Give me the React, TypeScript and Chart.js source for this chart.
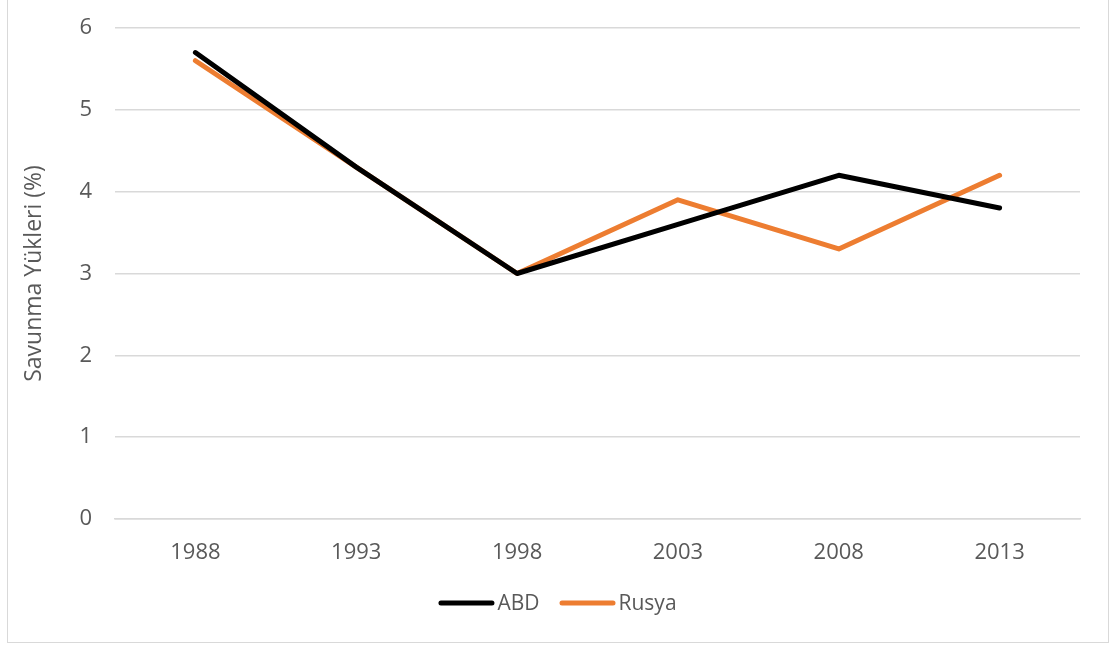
import React, { useEffect, useRef } from "react";
import { Chart, registerables } from "chart.js";

Chart.register(...registerables);

const years = ["1988", "1993", "1998", "2003", "2008", "2013"];
const abd = [5.7, 4.3, 3.0, 3.6, 4.2, 3.8];
const rusya = [5.6, 4.3, 3.0, 3.9, 3.3, 4.2];
const yTicks = [0, 1, 2, 3, 4, 5, 6];
const seriesNames = ["ABD", "Rusya"];
const seriesColors = ["#000000", "#ED7D31"];

const FONT = "'Open Sans', sans-serif";
const TEXT = "#595959";
const GRID = "#d9d9d9";

const legendPlugin = {
  id: "customLegend",
  afterDraw(chart: any) {
    const ctx = chart.ctx as CanvasRenderingContext2D;
    const y = 603;
    const lineW = 56;
    const gapText = 3;
    const gapItem = 20;
    ctx.save();
    ctx.font = `21px ${FONT}`;
    const items = chart.data.datasets.map((d: any) => ({
      label: d.label as string,
      color: d.borderColor as string,
      w: ctx.measureText(d.label).width,
    }));
    let total = 0;
    items.forEach((it: any, i: number) => {
      total += lineW + gapText + it.w + (i < items.length - 1 ? gapItem : 0);
    });
    let x = chart.width / 2 - total / 2;
    items.forEach((it: any) => {
      ctx.strokeStyle = it.color;
      ctx.lineWidth = 5;
      ctx.lineCap = "round";
      ctx.beginPath();
      ctx.moveTo(x + 2.5, y);
      ctx.lineTo(x + lineW - 2.5, y);
      ctx.stroke();
      ctx.fillStyle = TEXT;
      ctx.textBaseline = "middle";
      ctx.textAlign = "left";
      ctx.fillText(it.label, x + lineW + gapText, y + 1);
      x += lineW + gapText + it.w + gapItem;
    });
    ctx.restore();
  },
};

export default function App() {
  const ref = useRef<HTMLCanvasElement | null>(null);
  useEffect(() => {
    if (!ref.current) return;
    const chart = new Chart(ref.current, {
      type: "line",
      data: {
        labels: years,
        datasets: seriesNames.map((name, i) => ({
          label: name,
          data: i === 0 ? abd : rusya,
          borderColor: seriesColors[i],
          backgroundColor: seriesColors[i],
          borderWidth: 5,
          pointRadius: 0,
          borderCapStyle: "round",
          borderJoinStyle: "round",
          tension: 0,
        })),
      },
      options: {
        responsive: false,
        animation: false,
        layout: { padding: { left: 0, right: 35, top: 28, bottom: 62.5 } },
        plugins: {
          tooltip: { enabled: false },
          legend: { display: false },
        },
        scales: {
          x: {
            offset: true,
            grid: { display: false, drawTicks: false },
            border: { display: true, color: GRID, width: 1.5 },
            ticks: { font: { family: FONT, size: 22 }, color: TEXT, padding: 21 },
            afterFit: (s: any) => {
              s.height = 64.5;
              s.paddingLeft = 0;
              s.paddingRight = 0;
            },
          },
          y: {
            min: 0,
            max: 6,
            afterBuildTicks: (s: any) => {
              s.ticks = yTicks.map((v) => ({ value: v }));
            },
            grid: { color: GRID, lineWidth: 1.5, drawTicks: false },
            border: { display: false },
            ticks: { font: { family: FONT, size: 22 }, color: TEXT, padding: 23 },
            title: {
              display: true,
              text: "Savunma Yükleri (%)",
              font: { family: FONT, size: 23 },
              color: TEXT,
              padding: { top: 21, bottom: 0 },
            },
            afterFit: (s: any) => {
              s.width = 115;
              s.paddingTop = 0;
              s.paddingBottom = 0;
            },
          },
        },
      },
      plugins: [legendPlugin],
    });
    return () => chart.destroy();
  }, []);
  return (
    <div style={{ position: "absolute", left: 0, top: 0, width: 1115, height: 646, background: "#fff" }}>
      <div
        style={{
          position: "absolute",
          left: 7,
          top: -5,
          width: 1100,
          height: 646,
          border: "1.5px solid #d9d9d9",
        }}
      />
      <canvas ref={ref} width={1115} height={646} style={{ position: "absolute", left: 0, top: 0 }} />
    </div>
  );
}
